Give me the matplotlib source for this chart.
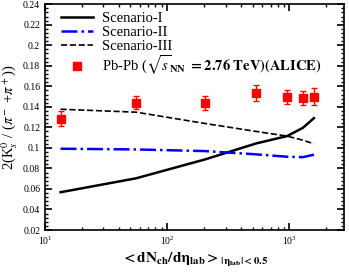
import matplotlib
matplotlib.use('Agg')
import matplotlib.pyplot as plt
from matplotlib.ticker import MultipleLocator, FormatStrFormatter, LogLocator

plt.rcParams['font.family'] = ['Liberation Serif', 'DejaVu Serif']
plt.rcParams['mathtext.fontset'] = 'stix'

# model curves (scenario I, II, III)
dn_model = [13.4, 55.7, 204, 536, 956, 1290, 1584]
scen1 = [0.0568, 0.0704, 0.0888, 0.1044, 0.1115, 0.1196, 0.129]
scen2 = [0.0992, 0.0985, 0.0969, 0.0937, 0.0914, 0.0910, 0.0934]
scen3 = [0.1377, 0.1348, 0.1238, 0.1160, 0.1115, 0.1075, 0.1040]

# ALICE data
dn_data = [13.4, 55.7, 204, 536, 956, 1290, 1584]
ratio_data = [0.1286, 0.1442, 0.1439, 0.1533, 0.1497, 0.1487, 0.150]
ratio_err = [0.0073, 0.006, 0.007, 0.008, 0.007, 0.0067, 0.008]

fig = plt.figure(figsize=(3.49, 2.73), dpi=100)
ax = fig.add_axes([0.129, 0.1575, 0.857, 0.827])

ax.plot(dn_model, scen1, '-', color='black', lw=1.8, label='Scenario-I')
ax.plot(dn_model, scen2, '-.', color='blue', lw=1.8, label='Scenario-II')
ax.plot(dn_model, scen3, '--', color='black', lw=1.2, label='Scenario-III')
ax.errorbar(dn_data, ratio_data, yerr=ratio_err, fmt='none', ecolor='red',
            elinewidth=1, capsize=2, capthick=1)
ax.plot(dn_data, ratio_data, 's', color='red', ms=5.5,
        label=r'Pb-Pb ($\sqrt{s}_{\mathbf{NN}}$ $\mathbf{= 2.76\ TeV)(ALICE)}$')

ax.set_xscale('log')
ax.set_xlim(10, 2800)
ax.set_ylim(0.02, 0.24)
ax.yaxis.set_major_locator(MultipleLocator(0.02))
ax.yaxis.set_minor_locator(MultipleLocator(0.004))
ax.yaxis.set_major_formatter(FormatStrFormatter('%g'))
ax.xaxis.set_minor_locator(LogLocator(base=10, subs=range(2, 10)))
ax.tick_params(which='both', direction='in', top=True, right=True, labelsize=7)
ax.tick_params(which='major', length=5, width=1.2)
ax.tick_params(which='minor', length=2.5, width=1)
for s in ax.spines.values():
    s.set_linewidth(1.2)

ax.set_ylabel(r'2(K$_s^0$ / ($\pi^-$ +$\pi^+$))', fontsize=10.5, labelpad=2)
ax.set_xlabel(r'$\mathbf{{<}dN_{ch}/d\eta_{lab}{>}_{|\eta_{lab}|<0.5}}$', fontsize=11, labelpad=3)

ax.legend(loc='upper left', fontsize=10.5, frameon=False, handlelength=2.2,
          labelspacing=0.05, borderaxespad=0.3, handletextpad=0.6,
          borderpad=0.2, bbox_to_anchor=(0.03, 1.0))

fig.savefig('out.png', dpi=100)
